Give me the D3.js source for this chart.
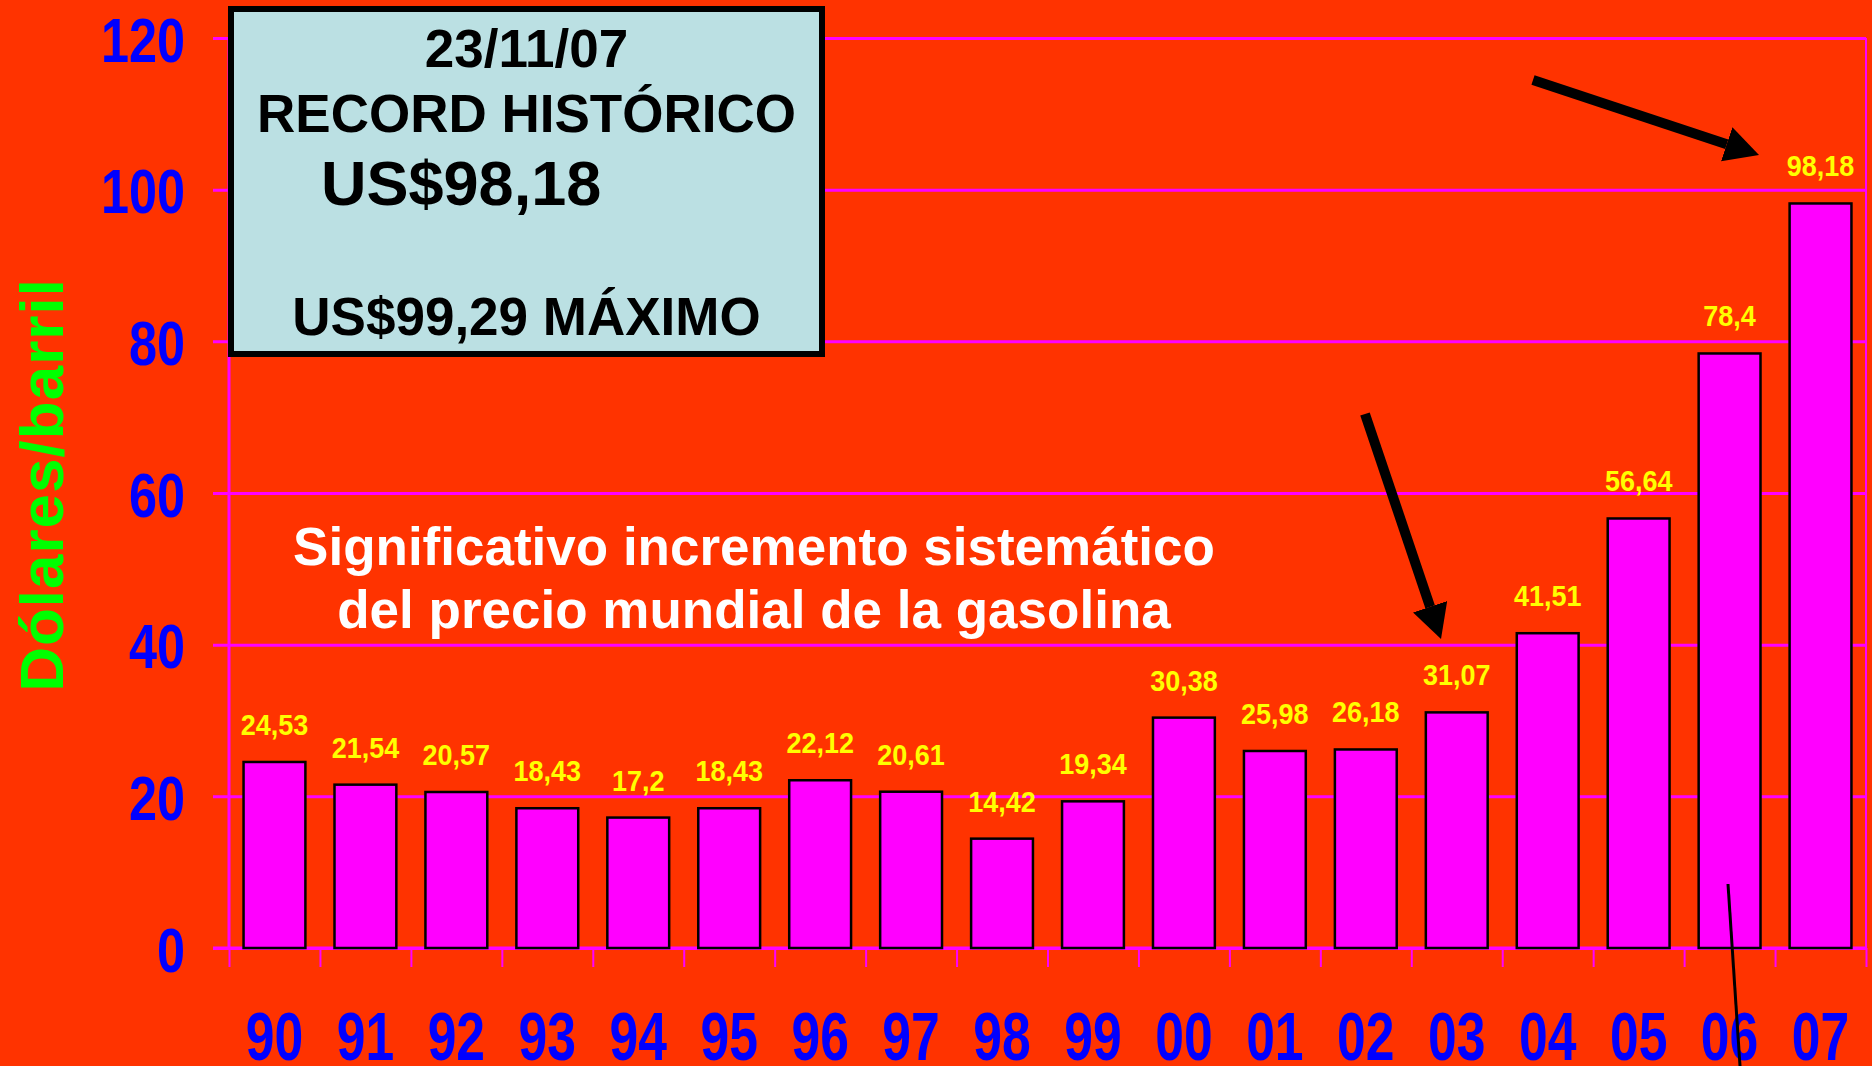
<!DOCTYPE html>
<html>
<head>
<meta charset="utf-8">
<script src="https://cdn.jsdelivr.net/npm/d3@7"></script>
<style>
  html, body { margin: 0; padding: 0; background: #ff3300; }
  svg { display: block; font-family: "Liberation Sans", Arial, sans-serif; font-weight: bold; }
</style>
</head>
<body>
<svg width="1872" height="1066"></svg>
<script>
// data
const years = ['90', '91', '92', '93', '94', '95', '96', '97', '98', '99', '00', '01', '02', '03', '04', '05', '06', '07'];
const prices = [24.53, 21.54, 20.57, 18.43, 17.2, 18.43, 22.12, 20.61, 14.42, 19.34, 30.38, 25.98, 26.18, 31.07, 41.51, 56.64, 78.4, 98.18];
const yTicks = [0, 20, 40, 60, 80, 100, 120];
const boxLines = ['23/11/07', 'RECORD HISTÓRICO', 'US$98,18', 'US$99,29 MÁXIMO'];
const noteLines = ['Significativo incremento sistemático', 'del precio mundial de la gasolina'];

const svg = d3.select('svg');
const width = +svg.attr('width');
const height = +svg.attr('height');

svg.append('rect').attr('width', width).attr('height', height).attr('fill', '#ff3300');

const plotLeft = 229, plotRight = 1866, plotTop = 38, plotBottom = 948;

const x = d3.scaleBand()
    .domain(years)
    .range([plotLeft, plotRight])
    .paddingInner(0.32)
    .paddingOuter(0.16);

const y = d3.scaleLinear()
    .domain([0, 120])
    .range([plotBottom, plotTop]);

// tick positions at band boundaries
const xEdges = d3.scaleLinear().domain([0, years.length]).range([plotLeft, plotRight]);

const magenta = '#ff00ff';

// horizontal gridlines (stick out 16px left of axis)
const gridG = svg.append('g')
    .attr('transform', `translate(${plotLeft - 16},0)`)
    .call(d3.axisRight(y).tickValues(yTicks).tickSize(plotRight - plotLeft + 16).tickFormat(''));
gridG.select('.domain').remove();
gridG.selectAll('line').attr('stroke', magenta).attr('stroke-width', 3);

// left and right vertical lines
svg.append('line')
    .attr('x1', plotLeft).attr('x2', plotLeft).attr('y1', y(120)).attr('y2', plotBottom)
    .attr('stroke', magenta).attr('stroke-width', 3);
svg.append('line')
    .attr('x1', plotRight).attr('x2', plotRight).attr('y1', y(120)).attr('y2', plotBottom)
    .attr('stroke', magenta).attr('stroke-width', 2);

// small ticks under the zero line
const tickG = svg.append('g')
    .attr('transform', `translate(0,${plotBottom})`)
    .call(d3.axisBottom(xEdges).tickValues(d3.range(years.length + 1)).tickSize(19).tickFormat(''));
tickG.select('.domain').remove();
tickG.selectAll('line').attr('stroke', magenta).attr('stroke-width', 2);

// y labels
const yAxisG = svg.append('g')
    .attr('transform', `translate(${plotLeft},0)`)
    .call(d3.axisLeft(y).tickValues(yTicks).tickSize(0).tickPadding(0));
yAxisG.select('.domain').remove();
yAxisG.selectAll('text')
    .attr('fill', '#0000ff')
    .attr('font-size', 63)
    .attr('font-family', '"Liberation Sans", Arial, sans-serif')
    .attr('font-weight', 'bold')
    .attr('transform', 'scale(0.8,1)')
    .attr('x', -44 / 0.8)
    .attr('dy', 23);

// x labels
const xAxisG = svg.append('g')
    .attr('transform', `translate(0,${plotBottom})`)
    .call(d3.axisBottom(x).tickSize(0));
xAxisG.select('.domain').remove();
xAxisG.selectAll('text')
    .attr('fill', '#0000ff')
    .attr('font-size', 68)
    .attr('font-family', '"Liberation Sans", Arial, sans-serif')
    .attr('font-weight', 'bold')
    .attr('transform', 'scale(0.76,1)')
    .attr('y', 112)
    .attr('dy', 0);

// zero line on top of ticks
svg.append('line')
    .attr('x1', plotLeft - 16).attr('x2', plotRight).attr('y1', y(0)).attr('y2', y(0))
    .attr('stroke', magenta).attr('stroke-width', 3);

// bars
svg.append('g').selectAll('rect')
  .data(prices)
  .join('rect')
    .attr('x', (d, i) => x(years[i]))
    .attr('y', d => y(d))
    .attr('width', x.bandwidth())
    .attr('height', d => y(0) - y(d))
    .attr('fill', magenta)
    .attr('stroke', '#000')
    .attr('stroke-width', 2.5);

// value labels
svg.append('g').selectAll('text')
  .data(prices)
  .join('text')
    .attr('transform', (d, i) => `translate(${x(years[i]) + x.bandwidth() / 2},${y(d) - 27}) scale(0.9,1)`)
    .attr('text-anchor', 'middle')
    .attr('font-size', 30)
    .attr('fill', '#ffff00')
    .text(d => String(d).replace('.', ','));

// y title
svg.append('text')
    .attr('transform', 'translate(63,485) rotate(-90)')
    .attr('text-anchor', 'middle')
    .attr('font-size', 62)
    .attr('letter-spacing', 1)
    .attr('fill', '#00ff00')
    .text('Dólares/barril');

// record box
svg.append('rect')
    .attr('x', 231).attr('y', 9)
    .attr('width', 591).attr('height', 345)
    .attr('fill', '#bbe0e3')
    .attr('stroke', '#000')
    .attr('stroke-width', 6);

const boxG = svg.append('g').attr('fill', '#000');
boxG.append('text').attr('x', 526.5).attr('y', 67).attr('text-anchor', 'middle').attr('font-size', 53).text(boxLines[0]);
boxG.append('text').attr('x', 526.5).attr('y', 132).attr('text-anchor', 'middle').attr('font-size', 53).text(boxLines[1]);
boxG.append('text').attr('x', 321).attr('y', 205).attr('font-size', 63).text(boxLines[2]);
boxG.append('text').attr('x', 526.5).attr('y', 335).attr('text-anchor', 'middle').attr('font-size', 53).text(boxLines[3]);

// note
svg.append('g').selectAll('text')
  .data(noteLines)
  .join('text')
    .attr('x', 754)
    .attr('y', (d, i) => 565 + i * 63)
    .attr('text-anchor', 'middle')
    .attr('font-size', 53)
    .attr('fill', '#fff')
    .text(d => d);

// arrows
svg.append('defs').append('marker')
    .attr('id', 'head')
    .attr('markerUnits', 'userSpaceOnUse')
    .attr('viewBox', '0 0 34 36')
    .attr('refX', 0).attr('refY', 18)
    .attr('markerWidth', 34).attr('markerHeight', 36)
    .attr('orient', 'auto')
  .append('path')
    .attr('d', 'M0,0 L34,18 L0,36 Z')
    .attr('fill', '#000');

const arrow = (x1, y1, x2, y2) => {
    // shorten the shaft so the head tip lands on (x2, y2)
    const len = Math.hypot(x2 - x1, y2 - y1);
    const k = (len - 34) / len;
    svg.append('line')
        .attr('x1', x1).attr('y1', y1)
        .attr('x2', x1 + (x2 - x1) * k).attr('y2', y1 + (y2 - y1) * k)
        .attr('stroke', '#000')
        .attr('stroke-width', 10)
        .attr('marker-end', 'url(#head)');
};
arrow(1533, 80, 1759, 155);
arrow(1365, 414, 1441, 639);

svg.append('line')
    .attr('x1', 1728).attr('y1', 884)
    .attr('x2', 1740).attr('y2', 1066)
    .attr('stroke', '#000')
    .attr('stroke-width', 3);
</script>
</body>
</html>
